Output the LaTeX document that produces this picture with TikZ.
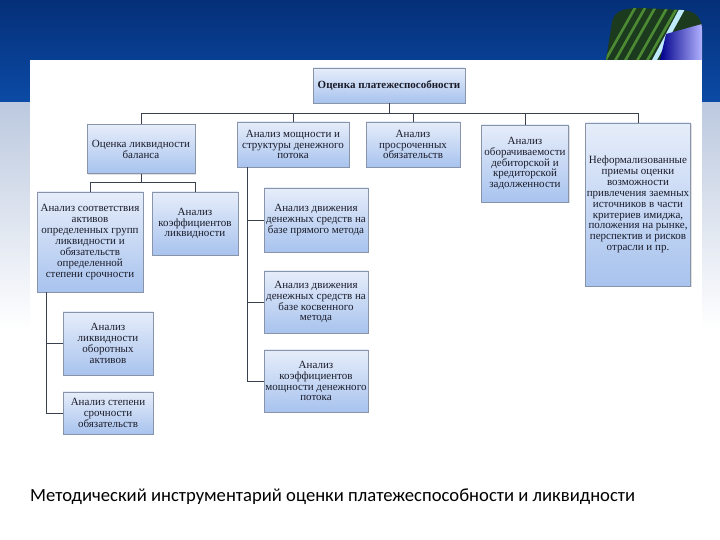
\documentclass[tikz,border=0pt]{standalone}
\usepackage{fontspec}
\setmainfont{Liberation Serif}
\newfontfamily\capfont{Carlito}
\usetikzlibrary{calc,positioning,shadows}
\definecolor{bandtop}{HTML}{052F78}
\definecolor{bandbot}{HTML}{0B4BA6}
\definecolor{sideg}{HTML}{BCC9DF}
\definecolor{boxtop}{HTML}{E6EDFA}
\definecolor{boxbot}{HTML}{A8C3EE}
\definecolor{boxline}{HTML}{8794AA}
\definecolor{boxtext}{HTML}{1A1C2A}
\definecolor{linkc}{HTML}{3A4250}
\definecolor{leafdark}{HTML}{1C3A1E}
\definecolor{leafmid}{HTML}{4C8A34}
\tikzset{
  blk/.style={draw=boxline, line width=0.4pt, top color=boxtop, bottom color=boxbot,
    align=center, inner sep=1pt, text=boxtext, font=\fontsize{9.4}{9.3}\selectfont,
    drop shadow={opacity=0.25, shadow xshift=1pt, shadow yshift=-1pt}},
  dim/.style 2 args={minimum width=#1*0.03cm, minimum height=#2*0.03cm},
  link/.style={draw=linkc, line width=0.8pt}
}

\begin{document}
\begin{tikzpicture}[x=0.03cm, y=-0.03cm]
  \useasboundingbox (0,0) rectangle (720,540);
  \fill[white] (0,0) rectangle (720,540);
  \shade[top color=bandtop, bottom color=bandbot] (0,0) rectangle (720,103);
  \shade[top color=sideg, bottom color=white] (0,103) rectangle (720,330);
  \begin{scope}
    \clip (606,60) -- (612,22) .. controls (614,12) and (622,8) .. (640,8)
      -- (682,10) .. controls (696,11) and (702,18) .. (702,30) -- (702,60) -- cycle;
    \fill[leafdark] (600,0) rectangle (710,60);
    \foreach \s in {604,614,624,636,646}
      \fill[leafmid] (\s,60) -- (\s+3,60) -- (\s+37,0) -- (\s+34,0) -- cycle;
    \fill[cyan!25!white] (652,60) -- (657,60) -- (690,0) -- (684,0) -- cycle;
    \shade[left color=blue!55!black, right color=blue!30!white] (666,34) -- (702,24) -- (702,60) -- (660,60) -- cycle;
  \end{scope}
  \fill[white] (30,60) rectangle (702,540);

  \node[blk, dim={152}{35}, font=\bfseries\fontsize{9.4}{9.3}\selectfont] (top) at (389,85.5) {Оценка платежеспособности};
  \node[blk, dim={108}{49}] (a1) at (141,149) {Оценка ликвидности\\баланса};
  \node[blk, dim={112}{45}] (a2) at (293,144.5) {Анализ мощности и\\структуры денежного\\потока};
  \node[blk, dim={94}{45}] (a3) at (413,144.5) {Анализ\\просроченных\\обязательств};
  \node[blk, dim={87}{77}] (a4) at (525,163.5) {Анализ\\оборачиваемости\\дебиторской и\\кредиторской\\задолженности};
  \node[blk, dim={105}{163}] (a5) at (638,204.5) {Неформализованные\\приемы оценки\\возможности\\привлечения заемных\\источников в части\\критериев имиджа,\\положения на рынке,\\перспектив и рисков\\отрасли и пр.};
  \node[blk, dim={106}{100}] (b1) at (90,242) {Анализ соответствия\\активов\\определенных групп\\ликвидности и\\обязательств\\определенной\\степени срочности};
  \node[blk, dim={86}{63}] (b2) at (195,223.5) {Анализ\\коэффициентов\\ликвидности};
  \node[blk, dim={90}{63}] (c1) at (108,343.5) {Анализ\\ликвидности\\оборотных\\активов};
  \node[blk, dim={90}{42}] (c2) at (108,413) {Анализ степени\\срочности\\обязательств};
  \node[blk, dim={104}{64}] (d1) at (316,220) {Анализ движения\\денежных средств на\\базе прямого метода};
  \node[blk, dim={104}{62}] (d2) at (316,302) {Анализ движения\\денежных средств на\\базе косвенного\\метода};
  \node[blk, dim={104}{62}] (d3) at (316,381) {Анализ\\коэффициентов\\мощности денежного\\потока};

  \draw[link] (top.south) -- ++(0,10) coordinate (bus);
  \foreach \n in {a1,a2,a3,a4,a5}
    \draw[link] (bus) -| (\n.north);
  \draw[link] (a1.south) -- ++(0,9) coordinate (a1bus);
  \draw[link] (a1bus) -| (b1.north);
  \draw[link] (a1bus) -| (b2.north);
  \draw[link] ($(b1.south west)+(10,0)$) |- (c1.west);
  \draw[link] ($(b1.south west)+(10,0)$) |- (c2.west);
  \foreach \n in {d1,d2,d3}
    \draw[link] ($(a2.south west)+(11,0)$) |- (\n.west);

  \node[anchor=west, font=\capfont\fontsize{15.9}{17}\selectfont, inner sep=0pt] (cap) at (30,497)
    {Методический инструментарий оценки платежеспособности и ликвидности};
\end{tikzpicture}
\end{document}
